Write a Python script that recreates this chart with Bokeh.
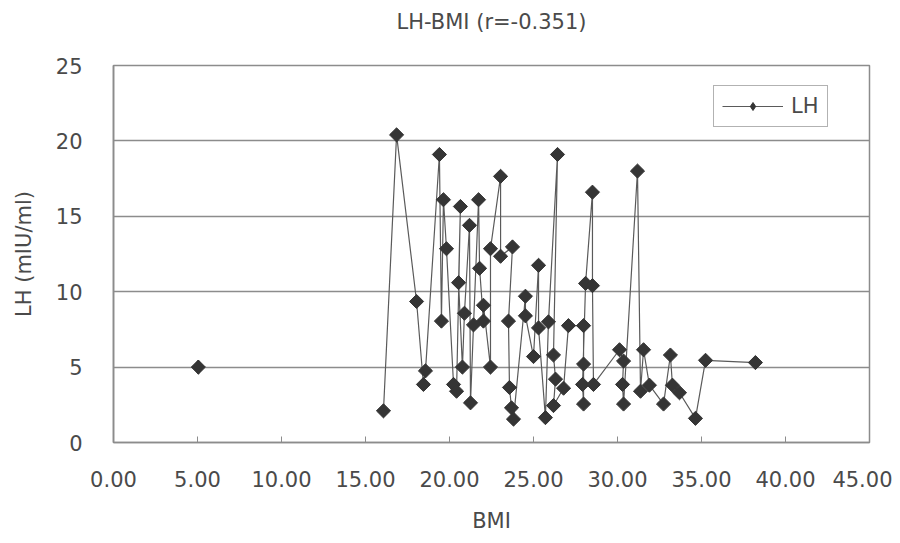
import numpy as np
from bokeh.plotting import figure
from bokeh.models import (Range1d, FixedTicker, PrintfTickFormatter, Legend,
                          LegendItem, LinearAxis)
from bokeh.embed import file_html
from bokeh.resources import INLINE

title_text = "LH-BMI (r=-0.351)"
x_label = "BMI"
y_label = "LH (mIU/ml)"
series_name = "LH"

x_ticks = [0, 5, 10, 15, 20, 25, 30, 35, 40, 45]
y_ticks = [0, 5, 10, 15, 20, 25]

# isolated first point (not joined to the rest)
bmi_first = [5.05]
lh_first = [5.0]

bmi = [16.07, 16.85, 18.04, 18.45, 18.57, 19.40, 19.52, 19.64, 19.82, 20.24,
       20.42, 20.65, 20.54, 20.77, 20.89, 21.19, 21.25, 21.43, 21.73, 21.79,
       22.02, 22.02, 22.44, 22.44, 23.04, 23.04, 23.75, 23.51, 23.57, 23.69,
       23.81, 24.52, 24.52, 25.00, 25.30, 25.30, 25.71, 25.89, 26.43, 26.19,
       26.31, 26.19, 26.79, 27.08, 27.98, 27.98, 27.98, 27.92, 28.10, 28.51,
       28.51, 28.57, 30.12, 30.36, 30.30, 30.36, 31.19, 31.37, 31.55, 31.90,
       32.74, 33.15, 33.27, 33.69, 34.64, 35.24, 38.21]
lh = [2.1, 20.4, 9.35, 3.85, 4.75, 19.1, 8.05, 16.1, 12.85, 3.85,
      3.4, 15.65, 10.6, 5.0, 8.57, 14.4, 2.63, 7.8, 16.1, 11.55,
      8.05, 9.1, 5.0, 12.85, 17.65, 12.35, 12.97, 8.05, 3.65, 2.3,
      1.55, 9.7, 8.4, 5.7, 11.75, 7.6, 1.65, 8.0, 19.1, 5.8,
      4.2, 2.45, 3.6, 7.75, 7.75, 5.2, 2.55, 3.85, 10.55, 16.6,
      10.4, 3.85, 6.15, 5.4, 3.85, 2.55, 18.0, 3.4, 6.15, 3.8,
      2.55, 5.8, 3.8, 3.3, 1.6, 5.45, 5.3]

FONT = "DejaVu Sans"
FS = "21px"
TXT = "#4a4a4a"
GRAY = "#8c8c8c"
MARK = "#353535"

W, H = 892, 535

p = figure(width=W, height=H, output_backend="svg", toolbar_location=None,
           x_range=Range1d(0, 45), y_range=Range1d(0, 25),
           min_border_left=113, min_border_right=23, min_border_top=65,
           min_border_bottom=92)

p.outline_line_color = GRAY
p.outline_line_width = 1.5
p.background_fill_color = "white"
p.border_fill_color = "white"

p.xgrid.visible = False
p.ygrid.grid_line_color = GRAY
p.ygrid.grid_line_width = 1.6
p.ygrid.ticker = FixedTicker(ticks=y_ticks)

p.xaxis.ticker = FixedTicker(ticks=x_ticks)
p.xaxis.formatter = PrintfTickFormatter(format="%.2f")
p.yaxis.ticker = FixedTicker(ticks=y_ticks)

for ax in (p.xaxis[0], p.yaxis[0]):
    ax.axis_line_color = GRAY
    ax.axis_line_width = 1.6
    ax.major_label_text_font = FONT
    ax.major_label_text_font_size = FS
    ax.major_label_text_color = TXT
    ax.axis_label_text_font = FONT
    ax.axis_label_text_font_size = FS
    ax.axis_label_text_font_style = "normal"
    ax.axis_label_text_color = TXT
    ax.minor_tick_line_color = None

p.xaxis.axis_label = x_label
p.yaxis.axis_label = y_label
p.xaxis.major_tick_in = 6
p.xaxis.major_tick_out = 0
p.xaxis.major_tick_line_color = GRAY
p.xaxis.major_label_standoff = 28
p.xaxis.axis_label_standoff = 19
p.yaxis.major_tick_line_color = None
p.yaxis.major_label_standoff = 25
p.yaxis.axis_label_standoff = 17

# title carried by a bare axis above the frame
title_axis = LinearAxis(ticker=FixedTicker(ticks=[]), axis_label=title_text,
                        axis_line_color=None, major_tick_line_color=None,
                        minor_tick_line_color=None, major_label_standoff=0,
                        major_tick_in=0, major_tick_out=0,
                        axis_label_standoff=32, axis_label_text_font=FONT,
                        axis_label_text_font_size=FS,
                        axis_label_text_font_style="normal",
                        axis_label_text_color=TXT)
p.add_layout(title_axis, "above")

line_r = p.line(bmi, lh, line_color="#5a5a5a", line_width=1.2)
legend_mark = p.scatter(bmi_first, lh_first, marker="diamond", size=14,
                        fill_color=MARK, line_color=MARK)
p.scatter(bmi_first, lh_first, marker="square", angle=np.pi / 4, size=10,
          fill_color=MARK, line_color=MARK)
p.scatter(bmi, lh, marker="square", angle=np.pi / 4, size=10,
          fill_color=MARK, line_color=MARK)

legend = Legend(items=[LegendItem(label=series_name,
                                  renderers=[line_r, legend_mark])],
                location=(600, 315))
legend.glyph_width = 61
legend.glyph_height = 20
legend.label_text_font = FONT
legend.label_text_font_size = FS
legend.label_text_color = TXT
legend.border_line_color = "#666666"
legend.border_line_width = 1.5
legend.padding = 8
legend.margin = 0
legend.label_standoff = 8
p.add_layout(legend, "center")

open("out.html", "w").write(file_html(p, INLINE))
